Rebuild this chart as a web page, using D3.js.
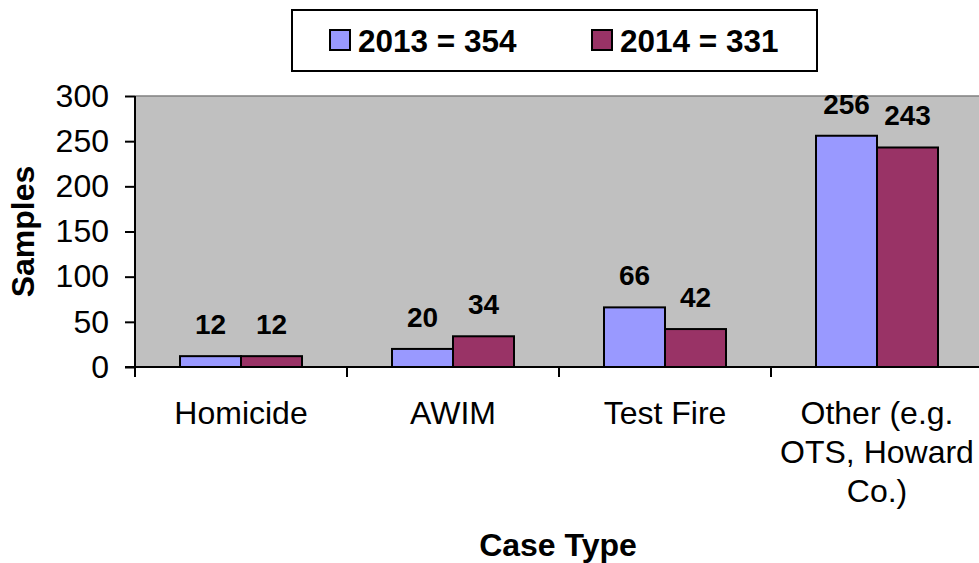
<!DOCTYPE html>
<html>
<head>
<meta charset="utf-8">
<script src="https://cdn.jsdelivr.net/npm/d3@7"></script>
<style>
  html, body { margin: 0; padding: 0; background: #fff; }
  svg { display: block; font-family: "Liberation Sans", Arial, sans-serif; }
</style>
</head>
<body>
<svg id="chart" width="979" height="563"></svg>
<script>
const categories = ["Homicide", "AWIM", "Test Fire", "Other (e.g. OTS, Howard Co.)"];
const categoryLines = [["Homicide"], ["AWIM"], ["Test Fire"], ["Other (e.g.", "OTS, Howard", "Co.)"]];
const seriesNames = ["2013", "2014"];
const values2013 = [12, 20, 66, 256];
const values2014 = [12, 34, 42, 243];
const legendLabels = ["2013 = 354", "2014 = 331"];
const yTicks = [0, 50, 100, 150, 200, 250, 300];
const colors = ["#9999FF", "#993366"];

(function () {
const svg = d3.select("#chart");
const pL = 135, pR = 983, pT = 96, pB = 367;

const x = d3.scaleBand().domain(categories).range([pL, pR]).paddingInner(0).paddingOuter(0);
const xs = d3.scaleBand().domain(seriesNames).range([45, x.bandwidth() - 45]).padding(0);
const y = d3.scaleLinear().domain([0, 300]).range([pB, pT]);

// plot background
svg.append("rect").attr("x", pL).attr("y", pT).attr("width", pR - pL).attr("height", pB - pT)
  .attr("fill", "#C0C0C0");
svg.append("line").attr("x1", pL).attr("x2", pR).attr("y1", pT).attr("y2", pT)
  .attr("stroke", "#808080").attr("stroke-width", 1.5);

// bars
const data = categories.map((c, i) => ({ cat: c, vals: [values2013[i], values2014[i]] }));
const groups = svg.append("g").selectAll("g").data(data).join("g")
  .attr("transform", d => `translate(${x(d.cat)},0)`);
groups.selectAll("rect").data(d => d.vals.map((v, j) => ({ v, s: seriesNames[j], j }))).join("rect")
  .attr("x", d => xs(d.s))
  .attr("y", d => y(d.v))
  .attr("width", xs.bandwidth())
  .attr("height", d => y(0) - y(d.v))
  .attr("fill", d => colors[d.j])
  .attr("stroke", "#000").attr("stroke-width", 2);
groups.selectAll("text").data(d => d.vals.map((v, j) => ({ v, s: seriesNames[j], j }))).join("text")
  .attr("x", d => xs(d.s) + xs.bandwidth() / 2)
  .attr("y", d => y(d.v) - 22)
  .attr("text-anchor", "middle")
  .attr("font-weight", "bold").attr("font-size", 28).attr("fill", "#000")
  .text(d => d.v);

// y axis
const yAxis = d3.axisLeft(y).tickValues(yTicks).tickSize(10).tickPadding(16).tickSizeOuter(0);
const gy = svg.append("g").attr("transform", `translate(${pL},0)`).call(yAxis);
gy.select(".domain").remove();
gy.selectAll(".tick line").attr("stroke", "#000").attr("stroke-width", 2);
gy.selectAll(".tick text").attr("font-size", 32).attr("fill", "#000")
  .attr("font-family", "'Liberation Sans', Arial, sans-serif");
svg.append("line").attr("x1", pL).attr("x2", pL).attr("y1", pT).attr("y2", pB + 10)
  .attr("stroke", "#000").attr("stroke-width", 2);

// x axis
svg.append("line").attr("x1", pL - 10).attr("x2", pR).attr("y1", pB).attr("y2", pB)
  .attr("stroke", "#000").attr("stroke-width", 2);
svg.append("g").selectAll("line").data(categories.slice(1)).join("line")
  .attr("x1", d => x(d)).attr("x2", d => x(d))
  .attr("y1", pB).attr("y2", pB + 10)
  .attr("stroke", "#000").attr("stroke-width", 2);

const catLabels = svg.append("g").selectAll("text").data(categories).join("text")
  .attr("x", d => x(d) + x.bandwidth() / 2)
  .attr("y", 424)
  .attr("text-anchor", "middle")
  .attr("font-size", 32).attr("fill", "#000");
catLabels.each(function(d, i) {
  const t = d3.select(this);
  categoryLines[i].forEach((ln, k) => {
    t.append("tspan").attr("x", x(d) + x.bandwidth() / 2).attr("dy", k === 0 ? 0 : 39).text(ln);
  });
});

// axis titles
svg.append("text").attr("x", 558).attr("y", 556).attr("text-anchor", "middle")
  .attr("font-weight", "bold").attr("font-size", 32).text("Case Type");
svg.append("text").attr("transform", `translate(34,${(pT + pB) / 2}) rotate(-90)`)
  .attr("text-anchor", "middle").attr("font-weight", "bold").attr("font-size", 32).text("Samples");

// legend
svg.append("rect").attr("x", 292).attr("y", 10).attr("width", 525).attr("height", 61)
  .attr("fill", "#fff").attr("stroke", "#000").attr("stroke-width", 2);
const legendX = [330, 592];
legendLabels.forEach((lab, i) => {
  svg.append("rect").attr("x", legendX[i]).attr("y", 30).attr("width", 20).attr("height", 20)
    .attr("fill", colors[i]).attr("stroke", "#000").attr("stroke-width", 2);
  svg.append("text").attr("x", legendX[i] + 28).attr("y", 52)
    .attr("font-weight", "bold").attr("font-size", 31.5).text(lab);
});
})();
</script>
</body>
</html>
